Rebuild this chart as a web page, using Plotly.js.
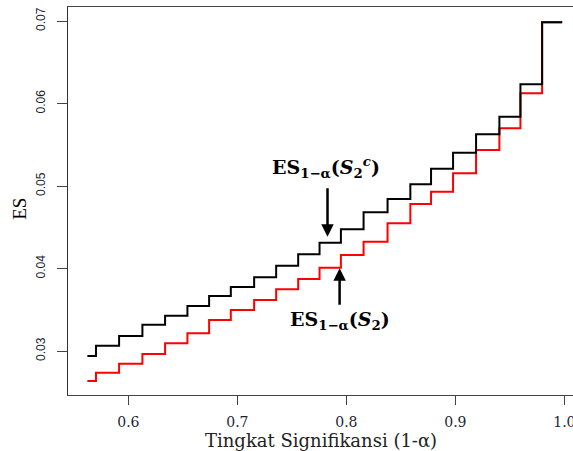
<!DOCTYPE html>
<html>
<head>
<meta charset="utf-8">
<script src="https://cdn.plot.ly/plotly-3.0.1.min.js"></script>
<style>html,body{margin:0;padding:0;background:#fff;overflow:hidden;}#chart{width:573px;height:451px;}</style>
</head>
<body>
<div id="chart"></div>
<script>
// Step positions (significance level 1-alpha) where ES jumps
const stepX = [0.5624, 0.5703, 0.5915, 0.6129, 0.6337, 0.6542, 0.6741, 0.6940, 0.7154, 0.7356, 0.7558,
               0.7754, 0.7950, 0.8158, 0.8378, 0.8587, 0.8777, 0.8979, 0.9190, 0.9404, 0.9597, 0.9796, 0.9980];
// ES for S2^c (black)
const esS2c = [0.02939, 0.03064, 0.03182, 0.03319, 0.03428, 0.03545, 0.03667, 0.03776, 0.03893, 0.04034, 0.04172,
               0.04313, 0.04475, 0.04681, 0.04842, 0.05021, 0.05210, 0.05404, 0.05627, 0.05840, 0.06233, 0.06984, 0.06984];
// ES for S2 (red)
const esS2 = [0.02636, 0.02737, 0.02846, 0.02964, 0.03093, 0.03215, 0.03376, 0.03497, 0.03618, 0.03748, 0.03873,
              0.04010, 0.04164, 0.04325, 0.04548, 0.04782, 0.04931, 0.05154, 0.05436, 0.05699, 0.06124, 0.06984, 0.06984];
const xTicks = [0.6, 0.7, 0.8, 0.9, 1.0];
const xTickText = ['0.6', '0.7', '0.8', '0.9', '1.0'];
const yTicks = [0.03, 0.04, 0.05, 0.06, 0.07];
const yTickText = ['0.03', '0.04', '0.05', '0.06', '0.07'];

const traces = [
  {x: stepX, y: esS2, mode: 'lines', line: {color: '#ff0000', width: 2, shape: 'hv'}, hoverinfo: 'skip'},
  {x: stepX, y: esS2c, mode: 'lines', line: {color: '#000000', width: 2, shape: 'hv'}, hoverinfo: 'skip'}
];

const serif = 'DejaVu Serif, serif';
const layout = {
  width: 573, height: 451,
  margin: {l: 68, r: 0, t: 7, b: 56, pad: 0},
  paper_bgcolor: '#fff', plot_bgcolor: '#fff',
  showlegend: false,
  xaxis: {
    range: [0.54463, 1.00793], showgrid: false, zeroline: false,
    showline: true, mirror: true, linecolor: '#444', linewidth: 1,
    ticks: 'outside', ticklen: 9, tickcolor: '#444', tickwidth: 1,
    tickvals: xTicks, ticktext: xTickText,
    ticklabeloverflow: 'allow', ticklabelstandoff: 5,
    tickfont: {family: serif, size: 14, color: '#1c1f33'}
  },
  yaxis: {
    range: [0.024667, 0.071697], showgrid: false, zeroline: false,
    showline: true, linecolor: '#333', linewidth: 1,
    ticks: 'outside', ticklen: 10, tickcolor: '#444', tickwidth: 1,
    tickvals: yTicks, ticktext: yTickText, tickangle: -90,
    ticklabelstandoff: 7,
    tickfont: {family: 'Liberation Sans, Arial, sans-serif', size: 12, color: '#1c1f33'}
  },
  annotations: [
    {xref: 'paper', yref: 'paper', x: 0.5, y: -0.118, xanchor: 'center', yanchor: 'middle',
     text: 'Tingkat Signifikansi (1-α)', showarrow: false,
     font: {family: serif, size: 18, color: '#222'}},
    {xref: 'paper', yref: 'paper', x: -0.095, y: 0.48, xanchor: 'center', yanchor: 'middle',
     text: 'ES', textangle: -90, showarrow: false,
     font: {family: 'Liberation Serif, serif', size: 19, color: '#000'}},
    {x: 0.7816, y: 0.0523, text: '<b>ES<sub>1−α</sub>(<i>S</i><sub>2</sub><sup><i>c</i></sup>)</b>',
     showarrow: false, xanchor: 'center', yanchor: 'middle',
     font: {family: serif, size: 19, color: '#000'}},
    {x: 0.7944, y: 0.03364, text: '<b>ES<sub>1−α</sub>(<i>S</i><sub>2</sub>)</b>',
     showarrow: false, xanchor: 'center', yanchor: 'middle',
     font: {family: serif, size: 19, color: '#000'}},
    {x: 0.7827, y: 0.04385, text: '', showarrow: true, ax: 0, ay: -50,
     arrowhead: 2, arrowsize: 1, arrowwidth: 2.5, arrowcolor: '#000', standoff: 0},
    {x: 0.7938, y: 0.04002, text: '', showarrow: true, ax: 0, ay: 38,
     arrowhead: 2, arrowsize: 1, arrowwidth: 2.5, arrowcolor: '#000', standoff: 0}
  ]
};
Plotly.newPlot('chart', traces, layout, {staticPlot: true, displayModeBar: false});
</script>
</body>
</html>
